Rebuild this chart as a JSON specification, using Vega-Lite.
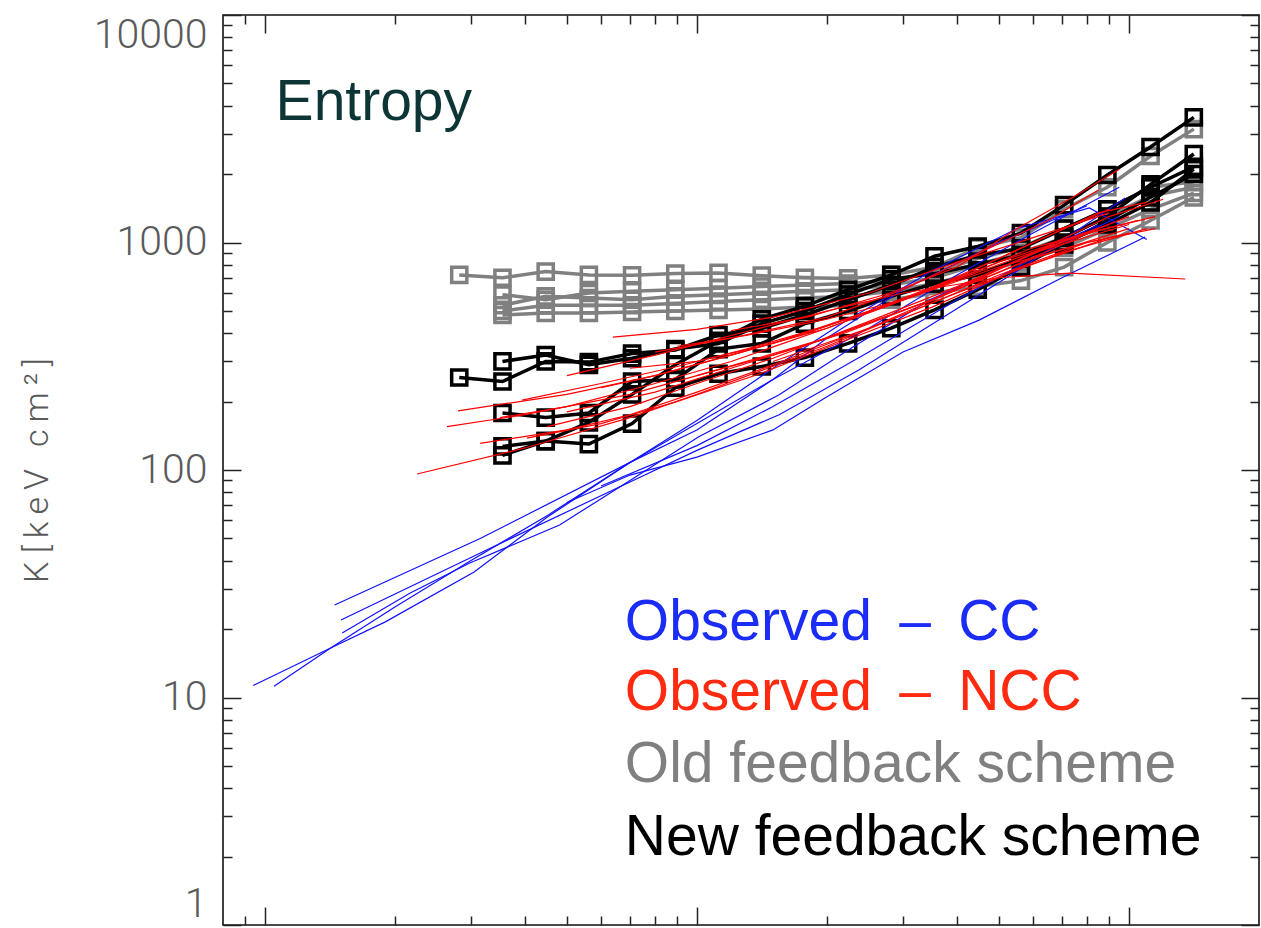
{
"$schema": "https://vega.github.io/schema/vega-lite/v6.json",
"width": 1036, "height": 910,
"autosize": {"type": "none"},
"padding": {"left": 223, "top": 15, "right": 2, "bottom": 3},
"background": "white",
"config": {"view": {"stroke": "#111", "strokeWidth": 1.6}},
"datasets": {
"sim": [
{"g":"old","id":"G1","r":0.02818,"K":720},{"g":"old","id":"G1","r":0.03548,"K":700},{"g":"old","id":"G1","r":0.04467,"K":745},{"g":"old","id":"G1","r":0.05623,"K":720},{"g":"old","id":"G1","r":0.07079,"K":718},{"g":"old","id":"G1","r":0.08913,"K":730},{"g":"old","id":"G1","r":0.1122,"K":735},{"g":"old","id":"G1","r":0.1413,"K":715},{"g":"old","id":"G1","r":0.1778,"K":700},{"g":"old","id":"G1","r":0.2239,"K":695},{"g":"old","id":"G1","r":0.2818,"K":720},{"g":"old","id":"G1","r":0.3548,"K":780},{"g":"old","id":"G1","r":0.4467,"K":950},{"g":"old","id":"G1","r":0.5623,"K":1050},{"g":"old","id":"G1","r":0.7079,"K":1400},{"g":"old","id":"G1","r":0.8913,"K":1750},{"g":"old","id":"G1","r":1.122,"K":2400},{"g":"old","id":"G1","r":1.413,"K":3150},
{"g":"old","id":"G2","r":0.03548,"K":590},{"g":"old","id":"G2","r":0.04467,"K":560},{"g":"old","id":"G2","r":0.05623,"K":600},{"g":"old","id":"G2","r":0.07079,"K":610},{"g":"old","id":"G2","r":0.08913,"K":620},{"g":"old","id":"G2","r":0.1122,"K":630},{"g":"old","id":"G2","r":0.1413,"K":640},{"g":"old","id":"G2","r":0.1778,"K":650},{"g":"old","id":"G2","r":0.2239,"K":660},{"g":"old","id":"G2","r":0.2818,"K":680},{"g":"old","id":"G2","r":0.3548,"K":740},{"g":"old","id":"G2","r":0.4467,"K":850},{"g":"old","id":"G2","r":0.5623,"K":950},{"g":"old","id":"G2","r":0.7079,"K":1150},{"g":"old","id":"G2","r":0.8913,"K":1400},{"g":"old","id":"G2","r":1.122,"K":1750},{"g":"old","id":"G2","r":1.413,"K":1850},
{"g":"old","id":"G3","r":0.03548,"K":530},{"g":"old","id":"G3","r":0.04467,"K":580},{"g":"old","id":"G3","r":0.05623,"K":570},{"g":"old","id":"G3","r":0.07079,"K":560},{"g":"old","id":"G3","r":0.08913,"K":580},{"g":"old","id":"G3","r":0.1122,"K":590},{"g":"old","id":"G3","r":0.1413,"K":600},{"g":"old","id":"G3","r":0.1778,"K":610},{"g":"old","id":"G3","r":0.2239,"K":620},{"g":"old","id":"G3","r":0.2818,"K":650},{"g":"old","id":"G3","r":0.3548,"K":700},{"g":"old","id":"G3","r":0.4467,"K":800},{"g":"old","id":"G3","r":0.5623,"K":900},{"g":"old","id":"G3","r":0.7079,"K":1050},{"g":"old","id":"G3","r":0.8913,"K":1300},{"g":"old","id":"G3","r":1.122,"K":1600},{"g":"old","id":"G3","r":1.413,"K":1750},
{"g":"old","id":"G4","r":0.03548,"K":500},{"g":"old","id":"G4","r":0.04467,"K":530},{"g":"old","id":"G4","r":0.05623,"K":530},{"g":"old","id":"G4","r":0.07079,"K":530},{"g":"old","id":"G4","r":0.08913,"K":540},{"g":"old","id":"G4","r":0.1122,"K":550},{"g":"old","id":"G4","r":0.1413,"K":560},{"g":"old","id":"G4","r":0.1778,"K":570},{"g":"old","id":"G4","r":0.2239,"K":580},{"g":"old","id":"G4","r":0.2818,"K":610},{"g":"old","id":"G4","r":0.3548,"K":660},{"g":"old","id":"G4","r":0.4467,"K":740},{"g":"old","id":"G4","r":0.5623,"K":820},{"g":"old","id":"G4","r":0.7079,"K":950},{"g":"old","id":"G4","r":0.8913,"K":1150},{"g":"old","id":"G4","r":1.122,"K":1400},{"g":"old","id":"G4","r":1.413,"K":1650},
{"g":"old","id":"G5","r":0.03548,"K":480},{"g":"old","id":"G5","r":0.04467,"K":490},{"g":"old","id":"G5","r":0.05623,"K":490},{"g":"old","id":"G5","r":0.07079,"K":495},{"g":"old","id":"G5","r":0.08913,"K":500},{"g":"old","id":"G5","r":0.1122,"K":505},{"g":"old","id":"G5","r":0.1413,"K":510},{"g":"old","id":"G5","r":0.1778,"K":520},{"g":"old","id":"G5","r":0.2239,"K":530},{"g":"old","id":"G5","r":0.2818,"K":560},{"g":"old","id":"G5","r":0.3548,"K":600},{"g":"old","id":"G5","r":0.4467,"K":640},{"g":"old","id":"G5","r":0.5623,"K":680},{"g":"old","id":"G5","r":0.7079,"K":780},{"g":"old","id":"G5","r":0.8913,"K":1000},{"g":"old","id":"G5","r":1.122,"K":1250},{"g":"old","id":"G5","r":1.413,"K":1580},
{"g":"new","id":"B1","r":0.03548,"K":116},{"g":"new","id":"B1","r":0.04467,"K":134},{"g":"new","id":"B1","r":0.05623,"K":162},{"g":"new","id":"B1","r":0.07079,"K":215},{"g":"new","id":"B1","r":0.08913,"K":290},{"g":"new","id":"B1","r":0.1122,"K":370},{"g":"new","id":"B1","r":0.1413,"K":460},{"g":"new","id":"B1","r":0.1778,"K":525},{"g":"new","id":"B1","r":0.2239,"K":620},{"g":"new","id":"B1","r":0.2818,"K":720},{"g":"new","id":"B1","r":0.3548,"K":870},{"g":"new","id":"B1","r":0.4467,"K":960},{"g":"new","id":"B1","r":0.5623,"K":1100},{"g":"new","id":"B1","r":0.7079,"K":1460},{"g":"new","id":"B1","r":0.8913,"K":1980},{"g":"new","id":"B1","r":1.122,"K":2630},{"g":"new","id":"B1","r":1.413,"K":3550},
{"g":"new","id":"B2","r":0.02818,"K":255},{"g":"new","id":"B2","r":0.03548,"K":245},{"g":"new","id":"B2","r":0.04467,"K":300},{"g":"new","id":"B2","r":0.05623,"K":298},{"g":"new","id":"B2","r":0.07079,"K":325},{"g":"new","id":"B2","r":0.08913,"K":337},{"g":"new","id":"B2","r":0.1122,"K":392},{"g":"new","id":"B2","r":0.1413,"K":420},{"g":"new","id":"B2","r":0.1778,"K":480},{"g":"new","id":"B2","r":0.2239,"K":560},{"g":"new","id":"B2","r":0.2818,"K":650},{"g":"new","id":"B2","r":0.3548,"K":780},{"g":"new","id":"B2","r":0.4467,"K":880},{"g":"new","id":"B2","r":0.5623,"K":940},{"g":"new","id":"B2","r":0.7079,"K":1150},{"g":"new","id":"B2","r":0.8913,"K":1400},{"g":"new","id":"B2","r":1.122,"K":1750},{"g":"new","id":"B2","r":1.413,"K":2150},
{"g":"new","id":"B3","r":0.03548,"K":300},{"g":"new","id":"B3","r":0.04467,"K":320},{"g":"new","id":"B3","r":0.05623,"K":290},{"g":"new","id":"B3","r":0.07079,"K":310},{"g":"new","id":"B3","r":0.08913,"K":340},{"g":"new","id":"B3","r":0.1122,"K":360},{"g":"new","id":"B3","r":0.1413,"K":440},{"g":"new","id":"B3","r":0.1778,"K":500},{"g":"new","id":"B3","r":0.2239,"K":590},{"g":"new","id":"B3","r":0.2818,"K":690},{"g":"new","id":"B3","r":0.3548,"K":730},{"g":"new","id":"B3","r":0.4467,"K":800},{"g":"new","id":"B3","r":0.5623,"K":880},{"g":"new","id":"B3","r":0.7079,"K":1050},{"g":"new","id":"B3","r":0.8913,"K":1300},{"g":"new","id":"B3","r":1.122,"K":1800},{"g":"new","id":"B3","r":1.413,"K":2450},
{"g":"new","id":"B4","r":0.03548,"K":178},{"g":"new","id":"B4","r":0.04467,"K":170},{"g":"new","id":"B4","r":0.05623,"K":178},{"g":"new","id":"B4","r":0.07079,"K":245},{"g":"new","id":"B4","r":0.08913,"K":250},{"g":"new","id":"B4","r":0.1122,"K":340},{"g":"new","id":"B4","r":0.1413,"K":360},{"g":"new","id":"B4","r":0.1778,"K":440},{"g":"new","id":"B4","r":0.2239,"K":500},{"g":"new","id":"B4","r":0.2818,"K":580},{"g":"new","id":"B4","r":0.3548,"K":660},{"g":"new","id":"B4","r":0.4467,"K":720},{"g":"new","id":"B4","r":0.5623,"K":850},{"g":"new","id":"B4","r":0.7079,"K":980},{"g":"new","id":"B4","r":0.8913,"K":1250},{"g":"new","id":"B4","r":1.122,"K":1580},{"g":"new","id":"B4","r":1.413,"K":2000},
{"g":"new","id":"B5","r":0.03548,"K":127},{"g":"new","id":"B5","r":0.04467,"K":134},{"g":"new","id":"B5","r":0.05623,"K":130},{"g":"new","id":"B5","r":0.07079,"K":160},{"g":"new","id":"B5","r":0.08913,"K":230},{"g":"new","id":"B5","r":0.1122,"K":265},{"g":"new","id":"B5","r":0.1413,"K":285},{"g":"new","id":"B5","r":0.1778,"K":312},{"g":"new","id":"B5","r":0.2239,"K":360},{"g":"new","id":"B5","r":0.2818,"K":420},{"g":"new","id":"B5","r":0.3548,"K":506},{"g":"new","id":"B5","r":0.4467,"K":620},{"g":"new","id":"B5","r":0.5623,"K":780},{"g":"new","id":"B5","r":0.7079,"K":1000},{"g":"new","id":"B5","r":0.8913,"K":1200},{"g":"new","id":"B5","r":1.122,"K":1500},{"g":"new","id":"B5","r":1.413,"K":2100}
],
"obs": [
{"t":"CC","id":"C1","r":0.0094,"K":11.3},{"t":"CC","id":"C1","r":0.0142,"K":16.5},{"t":"CC","id":"C1","r":0.019,"K":21.5},{"t":"CC","id":"C1","r":0.0305,"K":35.6},{"t":"CC","id":"C1","r":0.045,"K":62},{"t":"CC","id":"C1","r":0.07,"K":108},{"t":"CC","id":"C1","r":0.1,"K":150},{"t":"CC","id":"C1","r":0.15,"K":250},{"t":"CC","id":"C1","r":0.2,"K":380},{"t":"CC","id":"C1","r":0.3,"K":620},{"t":"CC","id":"C1","r":0.5,"K":1000},{"t":"CC","id":"C1","r":0.8,"K":1450},
{"t":"CC","id":"C2","r":0.0105,"K":11.2},{"t":"CC","id":"C2","r":0.0142,"K":16.5},{"t":"CC","id":"C2","r":0.02,"K":25},{"t":"CC","id":"C2","r":0.03,"K":40},{"t":"CC","id":"C2","r":0.045,"K":63},{"t":"CC","id":"C2","r":0.07,"K":108},{"t":"CC","id":"C2","r":0.1,"K":165},{"t":"CC","id":"C2","r":0.15,"K":280},{"t":"CC","id":"C2","r":0.22,"K":450},{"t":"CC","id":"C2","r":0.35,"K":750},{"t":"CC","id":"C2","r":0.55,"K":1150},{"t":"CC","id":"C2","r":0.81,"K":1420},{"t":"CC","id":"C2","r":1.1,"K":1030},
{"t":"CC","id":"C3","r":0.0145,"K":25.5},{"t":"CC","id":"C3","r":0.0315,"K":50},{"t":"CC","id":"C3","r":0.07,"K":108},{"t":"CC","id":"C3","r":0.1,"K":160},{"t":"CC","id":"C3","r":0.15,"K":250},{"t":"CC","id":"C3","r":0.25,"K":420},{"t":"CC","id":"C3","r":0.4,"K":720},{"t":"CC","id":"C3","r":0.6,"K":1100},{"t":"CC","id":"C3","r":0.95,"K":1750},
{"t":"CC","id":"C4","r":0.015,"K":21.9},{"t":"CC","id":"C4","r":0.0337,"K":45.9},{"t":"CC","id":"C4","r":0.07,"K":88.6},{"t":"CC","id":"C4","r":0.1,"K":122},{"t":"CC","id":"C4","r":0.155,"K":175},{"t":"CC","id":"C4","r":0.237,"K":275},{"t":"CC","id":"C4","r":0.363,"K":456},{"t":"CC","id":"C4","r":0.556,"K":757},{"t":"CC","id":"C4","r":0.98,"K":1570},
{"t":"CC","id":"C5","r":0.0151,"K":19.2},{"t":"CC","id":"C5","r":0.0217,"K":28.8},{"t":"CC","id":"C5","r":0.0298,"K":39},{"t":"CC","id":"C5","r":0.0481,"K":57.3},{"t":"CC","id":"C5","r":0.07,"K":90},{"t":"CC","id":"C5","r":0.101,"K":140},{"t":"CC","id":"C5","r":0.155,"K":214},{"t":"CC","id":"C5","r":0.224,"K":337},{"t":"CC","id":"C5","r":0.345,"K":558},{"t":"CC","id":"C5","r":0.525,"K":796},{"t":"CC","id":"C5","r":0.85,"K":1194},
{"t":"CC","id":"C6","r":0.05,"K":72},{"t":"CC","id":"C6","r":0.07,"K":95},{"t":"CC","id":"C6","r":0.1,"K":114},{"t":"CC","id":"C6","r":0.15,"K":150},{"t":"CC","id":"C6","r":0.2,"K":210},{"t":"CC","id":"C6","r":0.3,"K":330},{"t":"CC","id":"C6","r":0.45,"K":456},{"t":"CC","id":"C6","r":0.7,"K":700},{"t":"CC","id":"C6","r":1.09,"K":1057},
{"t":"CC","id":"C7","r":0.06,"K":85},{"t":"CC","id":"C7","r":0.1,"K":128},{"t":"CC","id":"C7","r":0.15,"K":190},{"t":"CC","id":"C7","r":0.25,"K":330},{"t":"CC","id":"C7","r":0.4,"K":560},{"t":"CC","id":"C7","r":0.6,"K":850},{"t":"CC","id":"C7","r":0.95,"K":1300},
{"t":"NCC","id":"R1","r":0.0225,"K":96},{"t":"NCC","id":"R1","r":0.04,"K":125},{"t":"NCC","id":"R1","r":0.07,"K":170},{"t":"NCC","id":"R1","r":0.1,"K":215},{"t":"NCC","id":"R1","r":0.2,"K":350},{"t":"NCC","id":"R1","r":0.3,"K":480},{"t":"NCC","id":"R1","r":0.5,"K":720},{"t":"NCC","id":"R1","r":0.8,"K":1000},{"t":"NCC","id":"R1","r":1.0,"K":1100},
{"t":"NCC","id":"R2","r":0.0264,"K":155},{"t":"NCC","id":"R2","r":0.04,"K":175},{"t":"NCC","id":"R2","r":0.07,"K":215},{"t":"NCC","id":"R2","r":0.1,"K":260},{"t":"NCC","id":"R2","r":0.2,"K":380},{"t":"NCC","id":"R2","r":0.35,"K":560},{"t":"NCC","id":"R2","r":0.6,"K":850},{"t":"NCC","id":"R2","r":1.0,"K":1150},
{"t":"NCC","id":"R3","r":0.028,"K":182},{"t":"NCC","id":"R3","r":0.05,"K":215},{"t":"NCC","id":"R3","r":0.08,"K":260},{"t":"NCC","id":"R3","r":0.12,"K":320},{"t":"NCC","id":"R3","r":0.2,"K":420},{"t":"NCC","id":"R3","r":0.35,"K":620},{"t":"NCC","id":"R3","r":0.6,"K":950},{"t":"NCC","id":"R3","r":1.05,"K":1250},
{"t":"NCC","id":"R4","r":0.0315,"K":131},{"t":"NCC","id":"R4","r":0.05,"K":150},{"t":"NCC","id":"R4","r":0.07,"K":175},{"t":"NCC","id":"R4","r":0.1,"K":220},{"t":"NCC","id":"R4","r":0.15,"K":290},{"t":"NCC","id":"R4","r":0.25,"K":420},{"t":"NCC","id":"R4","r":0.4,"K":600},{"t":"NCC","id":"R4","r":0.7,"K":900},{"t":"NCC","id":"R4","r":1.1,"K":1150},
{"t":"NCC","id":"R5","r":0.0394,"K":203},{"t":"NCC","id":"R5","r":0.06,"K":240},{"t":"NCC","id":"R5","r":0.09,"K":285},{"t":"NCC","id":"R5","r":0.13,"K":340},{"t":"NCC","id":"R5","r":0.2,"K":430},{"t":"NCC","id":"R5","r":0.3,"K":560},{"t":"NCC","id":"R5","r":0.5,"K":800},{"t":"NCC","id":"R5","r":0.8,"K":1100},{"t":"NCC","id":"R5","r":1.15,"K":1300},
{"t":"NCC","id":"R6","r":0.0404,"K":138},{"t":"NCC","id":"R6","r":0.06,"K":160},{"t":"NCC","id":"R6","r":0.09,"K":200},{"t":"NCC","id":"R6","r":0.14,"K":265},{"t":"NCC","id":"R6","r":0.22,"K":370},{"t":"NCC","id":"R6","r":0.35,"K":520},{"t":"NCC","id":"R6","r":0.55,"K":760},{"t":"NCC","id":"R6","r":0.9,"K":1050},
{"t":"NCC","id":"R7","r":0.0639,"K":384},{"t":"NCC","id":"R7","r":0.1,"K":415},{"t":"NCC","id":"R7","r":0.15,"K":470},{"t":"NCC","id":"R7","r":0.25,"K":600},{"t":"NCC","id":"R7","r":0.4,"K":820},{"t":"NCC","id":"R7","r":0.6,"K":1050},{"t":"NCC","id":"R7","r":0.9,"K":1350},
{"t":"NCC","id":"R8","r":0.035,"K":170},{"t":"NCC","id":"R8","r":0.05,"K":190},{"t":"NCC","id":"R8","r":0.08,"K":240},{"t":"NCC","id":"R8","r":0.12,"K":300},{"t":"NCC","id":"R8","r":0.2,"K":420},{"t":"NCC","id":"R8","r":0.3,"K":560},{"t":"NCC","id":"R8","r":0.5,"K":820},{"t":"NCC","id":"R8","r":0.9,"K":1200},
{"t":"NCC","id":"R9","r":0.045,"K":155},{"t":"NCC","id":"R9","r":0.07,"K":190},{"t":"NCC","id":"R9","r":0.1,"K":240},{"t":"NCC","id":"R9","r":0.15,"K":310},{"t":"NCC","id":"R9","r":0.25,"K":450},{"t":"NCC","id":"R9","r":0.4,"K":640},{"t":"NCC","id":"R9","r":0.65,"K":950},{"t":"NCC","id":"R9","r":1.0,"K":1300},
{"t":"NCC","id":"R10","r":0.06,"K":230},{"t":"NCC","id":"R10","r":0.08,"K":260},{"t":"NCC","id":"R10","r":0.12,"K":320},{"t":"NCC","id":"R10","r":0.18,"K":400},{"t":"NCC","id":"R10","r":0.3,"K":560},{"t":"NCC","id":"R10","r":0.5,"K":850},{"t":"NCC","id":"R10","r":0.85,"K":1350},{"t":"NCC","id":"R10","r":1.1,"K":1500},
{"t":"NCC","id":"R11","r":0.07,"K":280},{"t":"NCC","id":"R11","r":0.1,"K":300},{"t":"NCC","id":"R11","r":0.15,"K":360},{"t":"NCC","id":"R11","r":0.25,"K":500},{"t":"NCC","id":"R11","r":0.4,"K":700},{"t":"NCC","id":"R11","r":0.6,"K":1000},{"t":"NCC","id":"R11","r":0.9,"K":1400},
{"t":"NCC","id":"R12","r":0.08,"K":330},{"t":"NCC","id":"R12","r":0.12,"K":380},{"t":"NCC","id":"R12","r":0.2,"K":470},{"t":"NCC","id":"R12","r":0.3,"K":620},{"t":"NCC","id":"R12","r":0.45,"K":900},{"t":"NCC","id":"R12","r":0.65,"K":1250},{"t":"NCC","id":"R12","r":0.85,"K":1700},
{"t":"NCC","id":"R13","r":0.05,"K":180},{"t":"NCC","id":"R13","r":0.08,"K":220},{"t":"NCC","id":"R13","r":0.12,"K":280},{"t":"NCC","id":"R13","r":0.2,"K":380},{"t":"NCC","id":"R13","r":0.35,"K":560},{"t":"NCC","id":"R13","r":0.6,"K":900},{"t":"NCC","id":"R13","r":1.0,"K":1200},
{"t":"NCC","id":"R14","r":0.09,"K":350},{"t":"NCC","id":"R14","r":0.13,"K":390},{"t":"NCC","id":"R14","r":0.2,"K":460},{"t":"NCC","id":"R14","r":0.3,"K":560},{"t":"NCC","id":"R14","r":0.5,"K":780},{"t":"NCC","id":"R14","r":0.8,"K":1000},{"t":"NCC","id":"R14","r":1.15,"K":1150},
{"t":"NCC","id":"R15","r":0.1,"K":260},{"t":"NCC","id":"R15","r":0.15,"K":320},{"t":"NCC","id":"R15","r":0.22,"K":400},{"t":"NCC","id":"R15","r":0.35,"K":560},{"t":"NCC","id":"R15","r":0.55,"K":800},{"t":"NCC","id":"R15","r":0.85,"K":1150},
{"t":"NCC","id":"R16","r":0.12,"K":410},{"t":"NCC","id":"R16","r":0.18,"K":470},{"t":"NCC","id":"R16","r":0.28,"K":600},{"t":"NCC","id":"R16","r":0.4,"K":780},{"t":"NCC","id":"R16","r":0.55,"K":1150},{"t":"NCC","id":"R16","r":0.75,"K":1600},{"t":"NCC","id":"R16","r":0.95,"K":2100},
{"t":"NCC","id":"R17","r":0.15,"K":300},{"t":"NCC","id":"R17","r":0.25,"K":420},{"t":"NCC","id":"R17","r":0.4,"K":620},{"t":"NCC","id":"R17","r":0.6,"K":900},{"t":"NCC","id":"R17","r":0.9,"K":1300},{"t":"NCC","id":"R17","r":1.2,"K":1550},
{"t":"NCC","id":"R18","r":0.05,"K":260},{"t":"NCC","id":"R18","r":0.08,"K":320},{"t":"NCC","id":"R18","r":0.12,"K":390},{"t":"NCC","id":"R18","r":0.2,"K":500},{"t":"NCC","id":"R18","r":0.3,"K":600},{"t":"NCC","id":"R18","r":0.5,"K":700},{"t":"NCC","id":"R18","r":0.73,"K":734},{"t":"NCC","id":"R18","r":1.35,"K":691}
],
"labels": [
{"text":"Entropy","r":0.01059,"K":3455},
{"text":"Observed \u2009–\u2009 CC","r":0.0681,"K":17.9},
{"text":"Observed \u2009–\u2009 NCC","r":0.0681,"K":8.81},
{"text":"Old feedback scheme","r":0.0681,"K":4.25},
{"text":"New feedback scheme","r":0.0681,"K":2.03}
]
},
"layer": [
{
"data": {"name": "sim"},
"transform": [{"filter": "datum.g == 'old'"}],
"mark": {"type": "line", "color": "#808080", "strokeWidth": 3.5},
"encoding": {
"x": {"field": "r", "type": "quantitative", "scale": {"type": "log", "domain": [0.008, 2], "nice": false},
"axis": {"orient": "bottom", "values": [0.009,0.01,0.02,0.03,0.04,0.05,0.06,0.07,0.08,0.09,0.1,0.2,0.3,0.4,0.5,0.6,0.7,0.8,0.9,1], "labels": false, "domain": false, "grid": false, "title": null, "tickColor": "#222", "tickWidth": 1.5,
"tickSize": {"condition": {"test": "abs(log(datum.value)/LN10 - round(log(datum.value)/LN10)) < 0.001", "value": -18}, "value": -9}}},
"y": {"field": "K", "type": "quantitative", "scale": {"type": "log", "domain": [1, 10000], "nice": false},
"axis": {"orient": "left", "values": [1,2,3,4,5,6,7,8,9,10,20,30,40,50,60,70,80,90,100,200,300,400,500,600,700,800,900,1000,2000,3000,4000,5000,6000,7000,8000,9000,10000],
"labelExpr": "abs(log(datum.value)/LN10 - round(log(datum.value)/LN10)) < 0.001 ? format(datum.value, 'd') : ''",
"labelOverlap": false, "labelFlush": true, "labelFont": "Roboto", "labelFontWeight": 300, "labelFontSize": 41, "labelColor": "#5a5a5a", "labelPadding": 34,
"domain": false, "grid": false, "tickColor": "#222", "tickWidth": 1.5,
"tickSize": {"condition": {"test": "abs(log(datum.value)/LN10 - round(log(datum.value)/LN10)) < 0.001", "value": -18}, "value": -9},
"title": "K [\u2009k\u2009e\u2009V\u2009 \u2009c\u2009m\u2009²\u2009]", "titleFont": "Roboto", "titleFontWeight": 300, "titleFontSize": 34, "titleColor": "#5a5a5a", "titlePadding": 39}},
"detail": {"field": "id"}
}
},
{
"data": {"name": "sim"},
"transform": [{"filter": "datum.g == 'old'"}],
"mark": {"type": "point", "shape": "square", "filled": false, "color": "#808080", "strokeWidth": 3.5, "size": 230, "opacity": 1},
"encoding": {
"x": {"field": "r", "type": "quantitative", "scale": {"type": "log", "domain": [0.008, 2], "nice": false},
"axis": {"orient": "top", "values": [0.009,0.01,0.02,0.03,0.04,0.05,0.06,0.07,0.08,0.09,0.1,0.2,0.3,0.4,0.5,0.6,0.7,0.8,0.9,1], "labels": false, "domain": false, "grid": false, "title": null, "tickColor": "#222", "tickWidth": 1.5,
"tickSize": {"condition": {"test": "abs(log(datum.value)/LN10 - round(log(datum.value)/LN10)) < 0.001", "value": -18}, "value": -9}}},
"y": {"field": "K", "type": "quantitative", "scale": {"type": "log", "domain": [1, 10000], "nice": false},
"axis": {"orient": "right", "values": [1,2,3,4,5,6,7,8,9,10,20,30,40,50,60,70,80,90,100,200,300,400,500,600,700,800,900,1000,2000,3000,4000,5000,6000,7000,8000,9000,10000], "labels": false, "domain": false, "grid": false, "title": null, "tickColor": "#222", "tickWidth": 1.5,
"tickSize": {"condition": {"test": "abs(log(datum.value)/LN10 - round(log(datum.value)/LN10)) < 0.001", "value": -18}, "value": -9}}}
}
},
{
"data": {"name": "sim"},
"transform": [{"filter": "datum.g == 'new'"}],
"mark": {"type": "line", "color": "#000000", "strokeWidth": 3.5},
"encoding": {
"x": {"field": "r", "type": "quantitative", "axis": null},
"y": {"field": "K", "type": "quantitative", "axis": null},
"detail": {"field": "id"}
}
},
{
"data": {"name": "sim"},
"transform": [{"filter": "datum.g == 'new'"}],
"mark": {"type": "point", "shape": "square", "filled": false, "color": "#000000", "strokeWidth": 3.5, "size": 230, "opacity": 1},
"encoding": {
"x": {"field": "r", "type": "quantitative", "axis": null},
"y": {"field": "K", "type": "quantitative", "axis": null}
}
},
{
"data": {"name": "obs"},
"transform": [{"filter": "datum.t == 'CC'"}],
"mark": {"type": "line", "color": "#1010ff", "strokeWidth": 1.2},
"encoding": {
"x": {"field": "r", "type": "quantitative", "axis": null},
"y": {"field": "K", "type": "quantitative", "axis": null},
"detail": {"field": "id"}
}
},
{
"data": {"name": "obs"},
"transform": [{"filter": "datum.t == 'NCC'"}],
"mark": {"type": "line", "color": "#ff0000", "strokeWidth": 1.2},
"encoding": {
"x": {"field": "r", "type": "quantitative", "axis": null},
"y": {"field": "K", "type": "quantitative", "axis": null},
"detail": {"field": "id"}
}
},
{
"data": {"name": "labels"},
"mark": {"type": "text", "align": "left", "baseline": "alphabetic", "font": "Liberation Sans", "fontSize": 57},
"encoding": {
"x": {"field": "r", "type": "quantitative", "axis": null},
"y": {"field": "K", "type": "quantitative", "axis": null},
"text": {"field": "text"},
"color": {"field": "text", "type": "nominal", "legend": null,
"scale": {"domain": ["Entropy", "Observed \u2009–\u2009 CC", "Observed \u2009–\u2009 NCC", "Old feedback scheme", "New feedback scheme"], "range": ["#0d3535", "#1a2cf5", "#ff2a10", "#808080", "#000000"]}}
}
}
],
"resolve": {"axis": {"x": "independent", "y": "independent"}}
}
